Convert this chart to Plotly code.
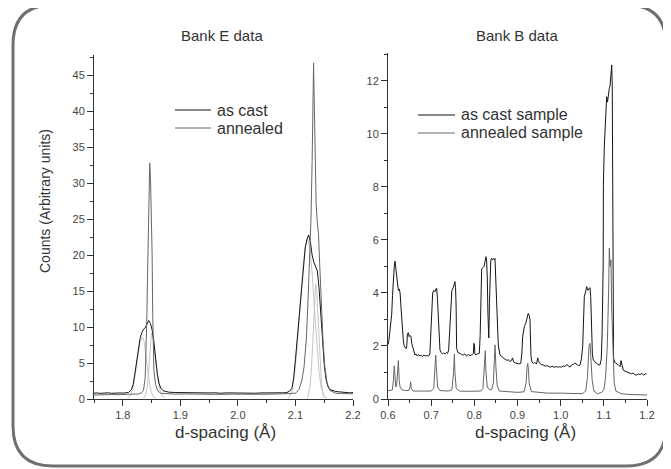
import plotly.graph_objects as go

# ---------------- Bank E (left panel) ----------------
e_cast_d = [1.750, 1.755, 1.760, 1.765, 1.770, 1.775, 1.780, 1.785, 1.790, 1.795, 1.800, 1.805, 1.810,
            1.815, 1.818, 1.821, 1.824, 1.827, 1.830, 1.833, 1.836, 1.839, 1.842, 1.845, 1.848, 1.851,
            1.854, 1.857, 1.860, 1.863, 1.866, 1.870, 1.875, 1.880, 1.890, 1.900, 1.910, 1.920, 1.930,
            1.940, 1.950, 1.960, 1.970, 1.980, 1.990, 2.000, 2.010, 2.020, 2.030, 2.040, 2.050, 2.060,
            2.070, 2.080, 2.085, 2.090, 2.094, 2.097, 2.100, 2.104, 2.108, 2.111, 2.114, 2.117, 2.120,
            2.123, 2.126, 2.129, 2.132, 2.135, 2.138, 2.141, 2.144, 2.147, 2.150, 2.153, 2.156, 2.160,
            2.165, 2.170, 2.175, 2.180, 2.185, 2.190, 2.195, 2.200]
e_cast_v = [0.80, 0.85, 0.78, 0.82, 0.80, 0.86, 0.79, 0.83, 0.80, 0.84, 0.82, 0.85, 0.90,
            1.3, 2.0, 3.5, 5.3, 7.2, 8.4, 9.2, 9.7, 9.9, 10.3, 10.9, 10.5, 9.6,
            8.0, 5.6, 3.5, 2.2, 1.5, 1.15, 1.0, 0.95, 0.90, 0.88, 0.85, 0.90, 0.82,
            0.88, 0.84, 0.86, 0.80, 0.85, 0.82, 0.84, 0.80, 0.83, 0.80, 0.84, 0.82, 0.85,
            0.82, 0.86, 0.90, 1.1, 1.5, 3.0, 5.5, 9.0, 12.5, 16.0, 18.8, 21.0, 22.2,
            22.8, 21.8, 20.0, 19.0, 18.4, 17.8, 15.5, 12.0, 8.0, 4.8, 2.8, 1.8, 1.3,
            1.15, 1.05, 1.0, 0.95, 0.90, 0.95, 0.85, 0.90]

e_ann_d = [1.750, 1.760, 1.770, 1.780, 1.790, 1.800, 1.810, 1.820, 1.828, 1.833, 1.836, 1.839,
           1.8405, 1.842, 1.843, 1.844, 1.8448, 1.8458, 1.8468, 1.8482, 1.849, 1.8505, 1.851,
           1.852, 1.8525, 1.854, 1.857, 1.861, 1.866, 1.875, 1.890, 1.910, 1.930, 1.950, 1.970,
           1.990, 2.010, 2.030, 2.050, 2.070, 2.090, 2.100, 2.106, 2.111, 2.115, 2.119, 2.122,
           2.125, 2.127, 2.129, 2.1305, 2.1315, 2.1325, 2.134, 2.136, 2.138, 2.140, 2.142, 2.145,
           2.148, 2.151, 2.155, 2.160, 2.170, 2.180, 2.190, 2.200]
e_ann_v = [0.55, 0.60, 0.58, 0.62, 0.60, 0.62, 0.60, 0.62, 0.70, 0.90, 1.2, 3.0,
           6.4, 12.0, 17.0, 22.0, 28.0, 32.0, 32.8, 30.5, 28.0, 24.0, 20.0,
           12.0, 7.0, 4.0, 2.0, 1.1, 0.80, 0.72, 0.68, 0.70, 0.65, 0.68, 0.64,
           0.67, 0.65, 0.68, 0.66, 0.70, 0.72, 0.80, 1.3, 2.5, 4.5, 8.5, 14.0,
           20.0, 25.0, 33.0, 42.0, 46.7, 42.0, 33.0, 27.0, 24.5, 23.0, 19.0, 13.0,
           8.0, 4.5, 2.2, 1.2, 0.80, 0.75, 0.70, 0.72]

# fitted component peaks (light grey)
e_fit1_d = [1.808, 1.813, 1.818, 1.822, 1.826, 1.830, 1.834, 1.837, 1.840, 1.843, 1.846, 1.849, 1.853, 1.857]
e_fit1_v = [0.1, 0.5, 1.6, 3.5, 5.8, 7.8, 8.6, 8.0, 6.2, 4.2, 2.4, 1.1, 0.3, 0.1]
e_fit2_d = [1.836, 1.840, 1.843, 1.846, 1.848, 1.850, 1.852, 1.855, 1.858, 1.861, 1.864, 1.868, 1.872]
e_fit2_v = [0.1, 0.6, 2.0, 5.0, 7.8, 9.2, 8.8, 6.8, 4.5, 2.8, 1.4, 0.5, 0.1]
e_fit3_d = [2.088, 2.093, 2.097, 2.101, 2.105, 2.109, 2.113, 2.117, 2.121, 2.125, 2.129, 2.133,
            2.137, 2.141, 2.145, 2.150, 2.155]
e_fit3_v = [0.1, 0.8, 2.5, 5.5, 9.5, 14.0, 18.3, 21.2, 22.3, 21.0, 17.5, 12.5, 7.5, 3.8, 1.5, 0.4, 0.1]
e_fit4_d = [2.121, 2.125, 2.128, 2.131, 2.133, 2.135, 2.137, 2.139, 2.142, 2.145, 2.148, 2.152]
e_fit4_v = [0.1, 1.5, 4.5, 9.5, 13.5, 16.0, 15.0, 12.0, 6.5, 2.5, 0.6, 0.1]

# ---------------- Bank B (right panel) ----------------
b_cast_d = [0.600, 0.602, 0.6046, 0.6086, 0.6105, 0.6123, 0.6145, 0.6162, 0.618, 0.620, 0.622, 0.624,
            0.626, 0.628, 0.630, 0.6317, 0.6335, 0.6355, 0.6375, 0.6394, 0.642, 0.6435, 0.645, 0.647,
            0.649, 0.651, 0.6533, 0.655, 0.657, 0.660, 0.6625, 0.665, 0.668, 0.671, 0.674, 0.677,
            0.680, 0.683, 0.686, 0.690, 0.694, 0.697, 0.6997, 0.7015, 0.7035, 0.706, 0.709, 0.711,
            0.7127, 0.7145, 0.7165, 0.718, 0.7204, 0.723, 0.726, 0.729, 0.732, 0.735, 0.738, 0.7405,
            0.7436, 0.746, 0.748, 0.7513, 0.753, 0.755, 0.7565, 0.7578, 0.759, 0.762, 0.7668, 0.770,
            0.7745, 0.778, 0.782, 0.786, 0.790, 0.794, 0.7977, 0.799, 0.800, 0.8015, 0.8032, 0.807,
            0.8115, 0.8135, 0.8147, 0.816, 0.817, 0.8195, 0.8224, 0.825, 0.827, 0.8285, 0.830, 0.8315,
            0.8325, 0.8335, 0.835, 0.8363, 0.838, 0.840, 0.842, 0.844, 0.8465, 0.8478, 0.850, 0.8517,
            0.8535, 0.8555, 0.8594, 0.863, 0.867, 0.871, 0.875, 0.879, 0.8826, 0.886, 0.8885, 0.891,
            0.895, 0.898, 0.902, 0.9075, 0.910, 0.912, 0.9158, 0.919, 0.9213, 0.923, 0.925, 0.927,
            0.929, 0.930, 0.9313, 0.9335, 0.9367, 0.940, 0.944, 0.947, 0.948, 0.951, 0.955, 0.960,
            0.964, 0.968, 0.972, 0.976, 0.980, 0.985, 0.990, 0.995, 0.998, 1.002, 1.006, 1.010,
            1.014, 1.018, 1.0216, 1.025, 1.029, 1.033, 1.037, 1.041, 1.0448, 1.048, 1.051, 1.053,
            1.0548, 1.057, 1.0603, 1.063, 1.0664, 1.068, 1.0696, 1.071, 1.072, 1.0735, 1.0756, 1.079,
            1.0834, 1.087, 1.091, 1.094, 1.096, 1.0985, 1.099, 1.101, 1.1027, 1.1045, 1.1066, 1.1085,
            1.1104, 1.1125, 1.1143, 1.1165, 1.1183, 1.1195, 1.1203, 1.121, 1.1225, 1.125, 1.1298, 1.133,
            1.1375, 1.140, 1.1425, 1.145, 1.149, 1.153, 1.157, 1.1606, 1.164, 1.168, 1.172, 1.176,
            1.180, 1.184, 1.188, 1.192, 1.196, 1.199]
b_cast_v = [2.05, 2.2, 2.6, 3.2, 3.9, 4.5, 5.0, 5.2, 4.9, 4.6, 4.2, 4.1,
            4.15, 4.0, 3.5, 3.0, 2.5, 2.2, 2.0, 1.97, 1.9, 2.0, 2.45, 2.5,
            2.35, 2.4, 2.35, 2.1, 1.97, 1.75, 1.66, 1.70, 1.62, 1.68, 1.62, 1.65,
            1.60, 1.66, 1.62, 1.64, 1.62, 1.7, 2.9, 3.6, 4.0, 4.1, 4.05, 4.15,
            4.18, 3.8, 3.2, 2.4, 1.85, 1.75, 1.70, 1.74, 1.70, 1.75, 1.72, 1.85,
            2.86, 4.0, 4.1, 4.2, 4.35, 4.43, 4.2, 3.5, 1.9, 1.75, 1.72, 1.68,
            1.66, 1.7, 1.62, 1.68, 1.64, 1.66, 1.72, 2.1, 2.05, 1.7, 1.66, 1.7,
            1.72, 2.4, 3.2, 4.4, 4.9, 4.95, 5.0, 5.2, 5.37, 5.2, 4.6, 3.2,
            2.3, 2.3, 3.6, 5.0, 5.2, 5.3, 5.25, 5.3, 5.25, 5.3, 4.2, 3.2,
            2.5, 2.04, 1.66, 1.6, 1.54, 1.5, 1.46, 1.48, 1.41, 1.45, 1.55, 1.4,
            1.36, 1.34, 1.33, 1.34, 1.7, 2.35, 2.73, 2.85, 2.98, 3.1, 3.23, 3.15,
            2.98, 2.3, 1.6, 1.4, 1.34, 1.38, 1.32, 1.55, 1.45, 1.36, 1.3, 1.28,
            1.24, 1.26, 1.22, 1.2, 1.23, 1.2, 1.22, 1.2, 1.22, 1.2, 1.25, 1.22,
            1.3, 1.26, 1.2, 1.28, 1.3, 1.36, 1.3, 1.26, 1.28, 1.5, 1.97, 3.0,
            3.86, 4.0, 4.24, 4.1, 4.18, 4.2, 3.86, 3.0, 2.1, 1.7, 1.47, 1.4,
            1.34, 1.3, 1.28, 1.5, 2.5, 5.1, 8.1, 9.5, 10.3, 11.0, 11.4, 11.2,
            11.6, 11.7, 11.8, 12.3, 12.6, 11.8, 6.0, 2.5, 1.55, 1.38, 1.34, 1.3,
            1.22, 1.45, 1.25, 1.09, 1.05, 1.02, 1.0, 0.97, 0.95, 0.98, 0.92, 0.9,
            0.95, 0.92, 0.97, 0.9, 0.95, 0.94]

b_ann_d = [0.600, 0.605, 0.610, 0.6125, 0.6145, 0.616, 0.618, 0.620, 0.622, 0.624, 0.626, 0.628,
           0.632, 0.640, 0.648, 0.651, 0.6525, 0.654, 0.658, 0.670, 0.680, 0.690, 0.700, 0.706,
           0.709, 0.7105, 0.712, 0.715, 0.720, 0.730, 0.740, 0.748, 0.752, 0.7537, 0.755, 0.758,
           0.765, 0.780, 0.800, 0.815, 0.820, 0.823, 0.8254, 0.827, 0.830, 0.835, 0.840, 0.844,
           0.846, 0.848, 0.850, 0.853, 0.858, 0.870, 0.880, 0.890, 0.900, 0.915, 0.920, 0.922,
           0.9236, 0.925, 0.927, 0.932, 0.950, 0.970, 1.000, 1.030, 1.050, 1.058, 1.062, 1.065,
           1.066, 1.068, 1.070, 1.073, 1.077, 1.085, 1.095, 1.100, 1.104, 1.108, 1.111, 1.1127,
           1.1145, 1.1166, 1.118, 1.121, 1.124, 1.128, 1.140, 1.160, 1.180, 1.200]
b_ann_v = [0.32, 0.32, 0.35, 0.7, 1.25, 0.6, 0.45, 0.5, 0.9, 1.45, 0.7, 0.45,
           0.35, 0.32, 0.32, 0.45, 0.65, 0.4, 0.3, 0.3, 0.29, 0.3, 0.3, 0.4,
           1.2, 1.66, 1.2, 0.45, 0.32, 0.3, 0.3, 0.35, 1.0, 1.7, 1.0, 0.4,
           0.3, 0.29, 0.28, 0.3, 0.4, 1.0, 1.82, 1.0, 0.45, 0.35, 0.35, 0.6,
           1.3, 2.04, 1.2, 0.5, 0.3, 0.28, 0.27, 0.25, 0.25, 0.27, 0.6, 1.2,
           1.34, 1.2, 0.6, 0.28, 0.25, 0.22, 0.22, 0.2, 0.2, 0.3, 0.8, 1.8,
           2.04, 2.1, 1.4, 0.7, 0.3, 0.2, 0.25, 0.35, 0.8, 2.0, 4.0, 5.69,
           5.0, 5.25, 3.5, 1.5, 0.6, 0.3, 0.2, 0.17, 0.16, 0.15]

# tick values and labels
e_xticks = [1.8, 1.9, 2.0, 2.1, 2.2]
e_yticks = [0, 5, 10, 15, 20, 25, 30, 35, 40, 45]
b_xticks = [0.6, 0.7, 0.8, 0.9, 1.0, 1.1, 1.2]
b_yticks = [0, 2, 4, 6, 8, 10, 12]
e_legend = ["as cast", "annealed"]
b_legend = ["as cast sample", "annealed sample"]

W, H = 671, 469
OFF = 8  # page offset of the plot div (body margin)
def px(x):
    return (x - OFF) / W
def py(y):
    return 1 - (y - OFF) / H

BLACK = "#151515"
GREY = "#666666"
LIGHT = "#c6c6c6"
FONT = "Arial, Liberation Sans, sans-serif"

fig = go.Figure()

for d, v in [(e_fit1_d, e_fit1_v), (e_fit2_d, e_fit2_v), (e_fit3_d, e_fit3_v), (e_fit4_d, e_fit4_v)]:
    fig.add_trace(go.Scatter(x=d, y=v, mode="lines", line=dict(color=LIGHT, width=1),
                             showlegend=False, hoverinfo="skip", xaxis="x", yaxis="y"))

fig.add_trace(go.Scatter(x=e_cast_d, y=e_cast_v, mode="lines", name=e_legend[0],
                         line=dict(color=BLACK, width=1), xaxis="x", yaxis="y"))
fig.add_trace(go.Scatter(x=e_ann_d, y=e_ann_v, mode="lines", name=e_legend[1],
                         line=dict(color=GREY, width=1), xaxis="x", yaxis="y"))
fig.add_trace(go.Scatter(x=b_cast_d, y=b_cast_v, mode="lines", name=b_legend[0],
                         line=dict(color=BLACK, width=1), xaxis="x2", yaxis="y2"))
fig.add_trace(go.Scatter(x=b_ann_d, y=b_ann_v, mode="lines", name=b_legend[1],
                         line=dict(color=GREY, width=1), xaxis="x2", yaxis="y2"))

tickfont = dict(family=FONT, size=11, color="#444")
axcommon = dict(showline=True, linecolor="#333", linewidth=1, ticks="outside", ticklen=6,
                tickwidth=1, tickcolor="#333", showgrid=False, zeroline=False, tickfont=tickfont,
                automargin=False)

fig.update_layout(
    width=W, height=H,
    margin=dict(l=0, r=0, t=0, b=0, pad=0, autoexpand=False),
    paper_bgcolor="white", plot_bgcolor="white",
    showlegend=False,
    font=dict(family=FONT, color="#333"),
    xaxis=dict(domain=[px(94), px(353)], range=[1.75, 2.2], anchor="y", tickvals=e_xticks,
               ticktext=[f"{t:.1f}" for t in e_xticks],
               minor=dict(dtick=0.05, tick0=1.75, ticks="outside", ticklen=3, tickcolor="#333"),
               **axcommon),
    yaxis=dict(domain=[py(399), py(55)], range=[0, 47.8], anchor="x", tickvals=e_yticks,
               minor=dict(dtick=2.5, tick0=0, ticks="outside", ticklen=3, tickcolor="#333"),
               **axcommon),
    xaxis2=dict(domain=[px(388), px(647)], range=[0.6, 1.2], anchor="y2", tickvals=b_xticks,
                ticktext=[f"{t:.1f}" for t in b_xticks],
                minor=dict(dtick=0.05, tick0=0.6, ticks="outside", ticklen=3, tickcolor="#333"),
                **axcommon),
    yaxis2=dict(domain=[py(399), py(53)], range=[0, 13.05], anchor="x2", tickvals=b_yticks,
                minor=dict(dtick=1, tick0=0, ticks="outside", ticklen=3, tickcolor="#333"),
                **axcommon),
)

def text(t, x, y, size, angle=0, xanchor="center"):
    fig.add_annotation(text=t, x=px(x), y=py(y), xref="paper", yref="paper", showarrow=False,
                       xanchor=xanchor, yanchor="middle", textangle=angle,
                       font=dict(family=FONT, size=size, color="#333"))

text("Bank E data", 222, 35, 15)
text("Bank B data", 517, 35, 15)
text("Counts (Arbitrary units)", 45, 201, 14, angle=-90)
text("d-spacing (Å)", 225, 432, 17)
text("d-spacing (Å)", 525, 432, 17)

# legends (sample line + label)
for i, (lab, col) in enumerate(zip(e_legend, [BLACK, GREY])):
    yy = 110 + 18 * i
    fig.add_shape(type="line", x0=px(175), x1=px(211), y0=py(yy), y1=py(yy), xref="paper", yref="paper",
                  line=dict(color=col, width=1))
    text(lab, 215, yy, 16, xanchor="left")
for i, (lab, col) in enumerate(zip(b_legend, [BLACK, GREY])):
    yy = 115 + 18 * i
    fig.add_shape(type="line", x0=px(418), x1=px(455), y0=py(yy), y1=py(yy), xref="paper", yref="paper",
                  line=dict(color=col, width=1))
    text(lab, 459, yy, 16, xanchor="left")

# rounded frame
L, R, T, B, r = 13, 666, 5, 466, 40
path = (f"M {px(L + r)},{py(T)} L {px(R - r)},{py(T)} Q {px(R)},{py(T)} {px(R)},{py(T + r)} "
        f"L {px(R)},{py(B - r)} Q {px(R)},{py(B)} {px(R - r)},{py(B)} "
        f"L {px(L + r)},{py(B)} Q {px(L)},{py(B)} {px(L)},{py(B - r)} "
        f"L {px(L)},{py(T + r)} Q {px(L)},{py(T)} {px(L + r)},{py(T)} Z")
fig.add_shape(type="path", path=path, xref="paper", yref="paper",
              line=dict(color="#707070", width=3))

fig.write_html("out.html")
